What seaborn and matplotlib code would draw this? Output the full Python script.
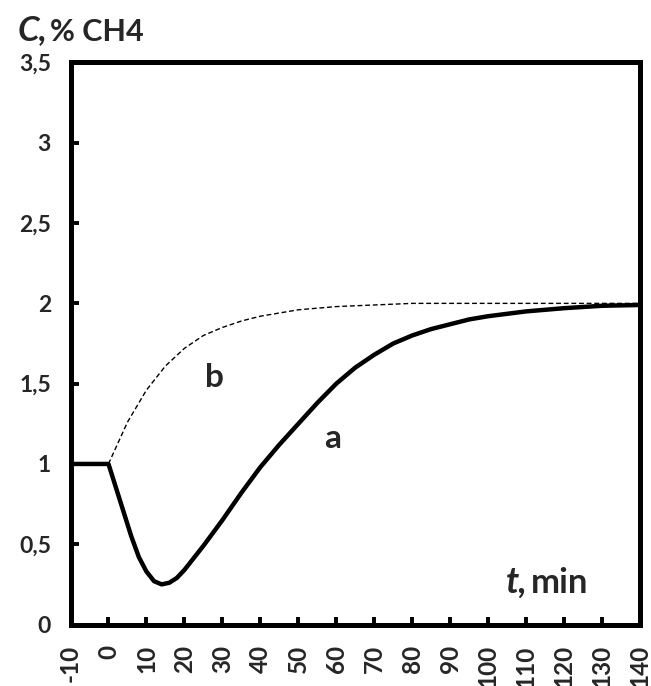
import numpy as np
import pandas as pd
import seaborn as sns
from matplotlib import pyplot as plt

# curve a (solid, thick)
t_a = [-10, 0, 2, 4, 6, 8, 10, 12, 14, 16, 18, 20, 25, 30, 35, 40, 45, 50, 55, 60,
       65, 70, 75, 80, 85, 90, 95, 100, 110, 120, 130, 140]
c_a = [1.0, 1.0, 0.85, 0.70, 0.55, 0.42, 0.33, 0.27, 0.25, 0.26, 0.29, 0.34, 0.49, 0.65,
       0.82, 0.98, 1.12, 1.25, 1.38, 1.50, 1.60, 1.68, 1.75, 1.80, 1.84, 1.87, 1.90,
       1.92, 1.95, 1.97, 1.985, 1.99]

# curve b (dashed, thin)
t_b = [0, 5, 10, 15, 20, 25, 30, 35, 40, 50, 60, 70, 80, 100, 120, 140]
c_b = [1.0, 1.26, 1.46, 1.61, 1.72, 1.80, 1.85, 1.89, 1.92, 1.96, 1.98, 1.99, 2.0, 2.0,
       2.0, 2.0]

x_ticks = list(range(-10, 141, 10))
y_ticks = [0, 0.5, 1, 1.5, 2, 2.5, 3, 3.5]
y_tick_labels = ['0', '0,5', '1', '1,5', '2', '2,5', '3', '3,5']

sns.set_style('ticks')
plt.rcParams['font.family'] = ['Lato', 'DejaVu Sans']
plt.rcParams['font.weight'] = 'bold'

df_a = pd.DataFrame({'t': t_a, 'c': c_a})
df_b = pd.DataFrame({'t': t_b, 'c': c_b})

fig = plt.figure(figsize=(6.51, 6.86), dpi=100)
ax = fig.add_axes([0.1083, 0.0896, 0.8748, 0.8193])

sns.lineplot(data=df_b, x='t', y='c', ax=ax, color='black', lw=1.0,
             linestyle=(0, (3.5, 2)), sort=False)
sns.lineplot(data=df_a, x='t', y='c', ax=ax, color='black', lw=3.2, sort=False,
             solid_joinstyle='round')

ax.set_xlim(-10, 140)
ax.set_ylim(0, 3.5)
ax.set_xticks(x_ticks)
ax.set_xticklabels([str(v) for v in x_ticks], rotation=90, fontsize=17.5, fontweight='bold')
ax.set_yticks(y_ticks)
ax.set_yticklabels(y_tick_labels, fontsize=16.5, fontweight='bold')
ax.tick_params(direction='in', length=5.5, width=2.8, color='black')
ax.tick_params(axis='x', pad=15)
ax.tick_params(axis='y', pad=14)
ax.set_xlabel('')
ax.set_ylabel('')
for sp in ax.spines.values():
    sp.set_visible(True)
    sp.set_linewidth(3.6)
    sp.set_color('black')

ax.text(28, 1.54, 'b', fontsize=24, fontweight='bold', ha='center', va='center')
ax.text(59, 1.16, 'a', fontsize=24, fontweight='bold', ha='center', va='center')

ax.text(0.764, 0.056, 't,', transform=ax.transAxes, fontsize=26, fontweight='bold',
        style='italic', ha='left', va='baseline')
ax.text(0.809, 0.056, 'min', transform=ax.transAxes, fontsize=25, fontweight='bold',
        ha='left', va='baseline')

fig.text(18 / 651, 1 - 40 / 686, 'C,', fontsize=25, fontweight='bold', style='italic',
         ha='left', va='baseline')
fig.text(50 / 651, 1 - 41 / 686, '% CH4', fontsize=22, fontweight='bold',
         ha='left', va='baseline')

fig.savefig('out.png', dpi=100)
